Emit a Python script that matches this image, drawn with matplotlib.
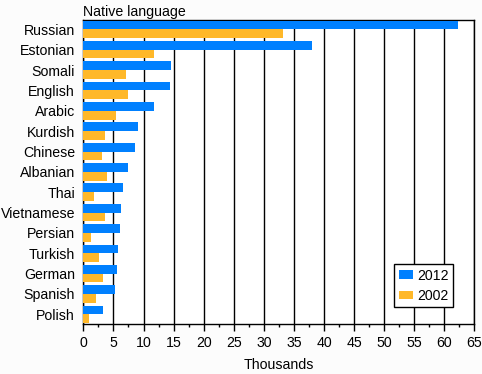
import matplotlib
matplotlib.use("Agg")
import matplotlib.pyplot as plt
import numpy as np
from matplotlib.ticker import MultipleLocator

plt.rcParams['font.family'] = ['Liberation Sans', 'DejaVu Sans']

languages = ["Russian", "Estonian", "Somali", "English", "Arabic", "Kurdish",
             "Chinese", "Albanian", "Thai", "Vietnamese", "Persian", "Turkish",
             "German", "Spanish", "Polish"]
y2012 = [62.3, 38.0, 14.5, 14.4, 11.7, 9.1, 8.6, 7.4, 6.6, 6.2, 6.1, 5.7, 5.6, 5.2, 3.2]
y2002 = [33.2, 11.7, 7.1, 7.4, 5.4, 3.6, 3.1, 3.9, 1.8, 3.6, 1.3, 2.6, 3.2, 2.1, 0.9]

blue = "#0080ff"
orange = "#ffb829"
fs = 10.2

fig = plt.figure(figsize=(4.82, 3.74), dpi=100, facecolor="#fcfcfc")
ax = fig.add_axes([0.173, 0.134, 0.811, 0.813])
ax.set_facecolor("white")

pos = np.arange(len(languages))
h = 0.43
ax.barh(pos - h / 2, y2012, height=h, color=blue, label="2012", zorder=3)
ax.barh(pos + h / 2, y2002, height=h, color=orange, label="2002", zorder=3)

ax.set_ylim(len(languages) - 0.53, -0.47)
ax.set_xlim(0, 65)
ax.set_yticks(pos)
ax.set_yticklabels(languages)
ax.xaxis.set_major_locator(MultipleLocator(5))
ax.xaxis.set_minor_locator(MultipleLocator(2.5))
ax.grid(axis="x", which="major", color="black", linewidth=1, zorder=1)
ax.tick_params(axis="y", length=0, labelsize=fs, pad=6)
ax.tick_params(axis="x", which="major", length=5, labelsize=fs, width=1)
ax.tick_params(axis="x", which="minor", length=2.5, width=1)
for s in ax.spines.values():
    s.set_color("black")
    s.set_linewidth(1)

ax.set_xlabel("Thousands", fontsize=fs, labelpad=6)
fig.text(0.172, 0.968, "Native language", fontsize=fs, ha="left", va="center")

leg = ax.legend(loc="lower right", bbox_to_anchor=(0.945, 0.055), fontsize=fs,
                frameon=True, fancybox=False, framealpha=1, edgecolor="black",
                handlelength=1.0, handleheight=0.55, handletextpad=0.3,
                borderpad=0.3, labelspacing=0.45, borderaxespad=0)
leg.get_frame().set_linewidth(1)

fig.savefig("out.png", dpi=100, facecolor=fig.get_facecolor())
